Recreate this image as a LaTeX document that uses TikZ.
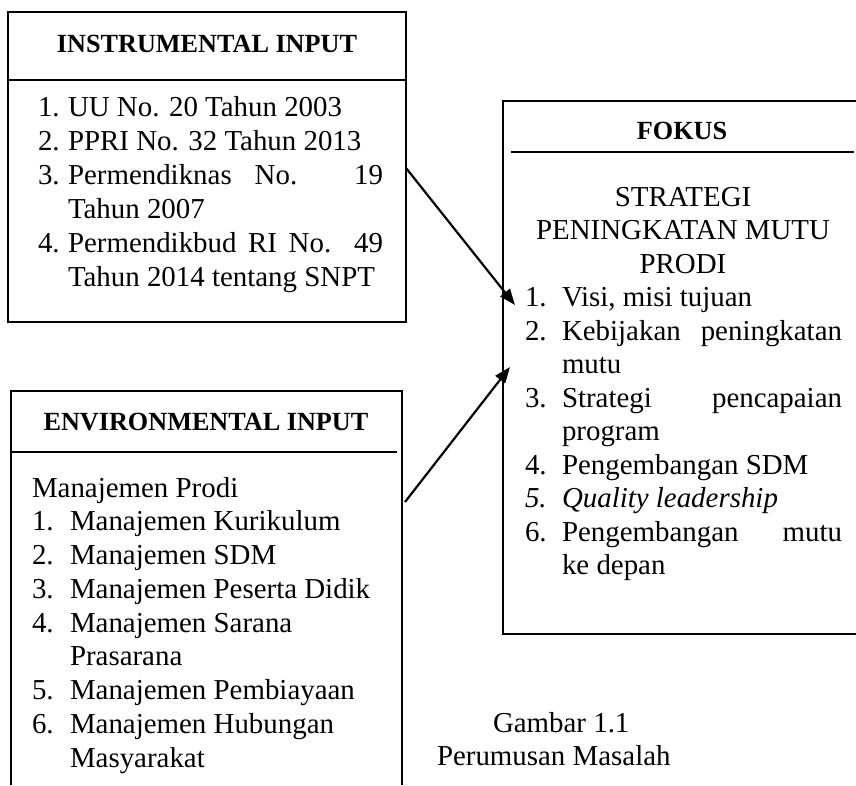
\documentclass[tikz,border=0pt]{standalone}
\usepackage{fontspec}
\setmainfont{Liberation Serif}
\usetikzlibrary{arrows.meta}
% a line whose words are spread over a given width
\newcommand\jus[2]{\makebox[#1][s]{#2}}
\begin{document}
\begin{tikzpicture}[x=1pt,y=-1pt,
  body/.style={anchor=base west, inner sep=0pt, outer sep=0pt, font=\fontsize{28.9}{34}\selectfont},
  ctr/.style={anchor=base, inner sep=0pt, outer sep=0pt, font=\fontsize{28.9}{34}\selectfont},
  head/.style={anchor=base, inner sep=0pt, outer sep=0pt, font=\fontsize{26.2}{31}\selectfont\bfseries},
  frame/.style={line width=1.6pt},
  rule/.style={line width=1.6pt},
  link/.style={line width=2.2pt, -{Triangle[length=16pt,width=12pt]}}]
\useasboundingbox (0,0) rectangle (856,785);

% ---- instrumental input ----
\draw[frame] (8,12) rectangle (406,322);
\draw[rule] (8,80) -- (406,80);
\node[head] (ihead) at (207,52) {INSTRUMENTAL INPUT};
\node[body] (i1n) at (38,116) {1.};
\node[body] (i1)  at (68,116) {UU No. 20 Tahun 2003};
\node[body] (i2n) at (38,150) {2.};
\node[body] (i2)  at (68,150) {PPRI No. 32 Tahun 2013};
\node[body] (i3n) at (38,184) {3.};
\node[body] (i3)  at (68,184) {\jus{315pt}{Permendiknas No. 19}};
\node[body] (i3b) at (68,218) {Tahun 2007};
\node[body] (i4n) at (38,252) {4.};
\node[body] (i4)  at (68,252) {\jus{315pt}{Permendikbud RI No. 49}};
\node[body] (i4b) at (68,286) {Tahun 2014 tentang SNPT};

% ---- environmental input (open at the bottom) ----
\draw[frame] (11,785) -- (11,391) -- (402,391) -- (402,785);
\draw[rule] (11,452) -- (397,452);
\node[head] (ehead) at (206,430) {ENVIRONMENTAL INPUT};
\node[body] (e0)  at (32,497) {Manajemen Prodi};
\node[body] (e1n) at (32,530.75) {1.};
\node[body] (e1)  at (70,530.75) {Manajemen Kurikulum};
\node[body] (e2n) at (32,564.5) {2.};
\node[body] (e2)  at (70,564.5) {Manajemen SDM};
\node[body] (e3n) at (32,598.25) {3.};
\node[body] (e3)  at (70,598.25) {Manajemen Peserta Didik};
\node[body] (e4n) at (32,632) {4.};
\node[body] (e4)  at (70,632) {Manajemen Sarana};
\node[body] (e4b) at (70,665.75) {Prasarana};
\node[body] (e5n) at (32,699.5) {5.};
\node[body] (e5)  at (70,699.5) {Manajemen Pembiayaan};
\node[body] (e6n) at (32,733.25) {6.};
\node[body] (e6)  at (70,733.25) {Manajemen Hubungan};
\node[body] (e6b) at (70,767) {Masyarakat};

% ---- focus (open at the right) ----
\draw[frame] (856,101) -- (503,101) -- (503,634) -- (856,634);
\draw[rule] (511,152) -- (854,152);
\node[head] (fhead) at (682,139) {FOKUS};
\node[ctr] (ft1) at (683,206) {STRATEGI};
\node[ctr] (ft2) at (683,239.5) {PENINGKATAN MUTU};
\node[ctr] (ft3) at (683,273) {PRODI};
\node[body] (f1n) at (525,306.5) {1.};
\node[body] (f1)  at (562,306.5) {Visi, misi tujuan};
\node[body] (f2n) at (525,340) {2.};
\node[body] (f2)  at (562,340) {\jus{280pt}{Kebijakan peningkatan}};
\node[body] (f2b) at (562,373.5) {mutu};
\node[body] (f3n) at (525,407) {3.};
\node[body] (f3)  at (562,407) {\jus{280pt}{Strategi pencapaian}};
\node[body] (f3b) at (562,440.5) {program};
\node[body] (f4n) at (525,474) {4.};
\node[body] (f4)  at (562,474) {Pengembangan SDM};
\node[body] (f5n) at (525,507.5) {\itshape 5.};
\node[body] (f5)  at (562,507.5) {\itshape Quality leadership};
\node[body] (f6n) at (525,541) {6.};
\node[body] (f6)  at (562,541) {\jus{280pt}{Pengembangan mutu}};
\node[body] (f6b) at (562,574.5) {ke depan};

% ---- connectors ----
\coordinate (a1s) at (406,168);
\coordinate (a1e) at (515,305);
\coordinate (a2s) at (405,502);
\coordinate (a2e) at (510,367);
\draw[link] (a1s) -- (a1e);
\draw[link] (a2s) -- (a2e);

% ---- caption ----
\node[body] (cap1) at (493,732) {Gambar 1.1};
\node[body] (cap2) at (437,765) {Perumusan Masalah};
\end{tikzpicture}
\end{document}
